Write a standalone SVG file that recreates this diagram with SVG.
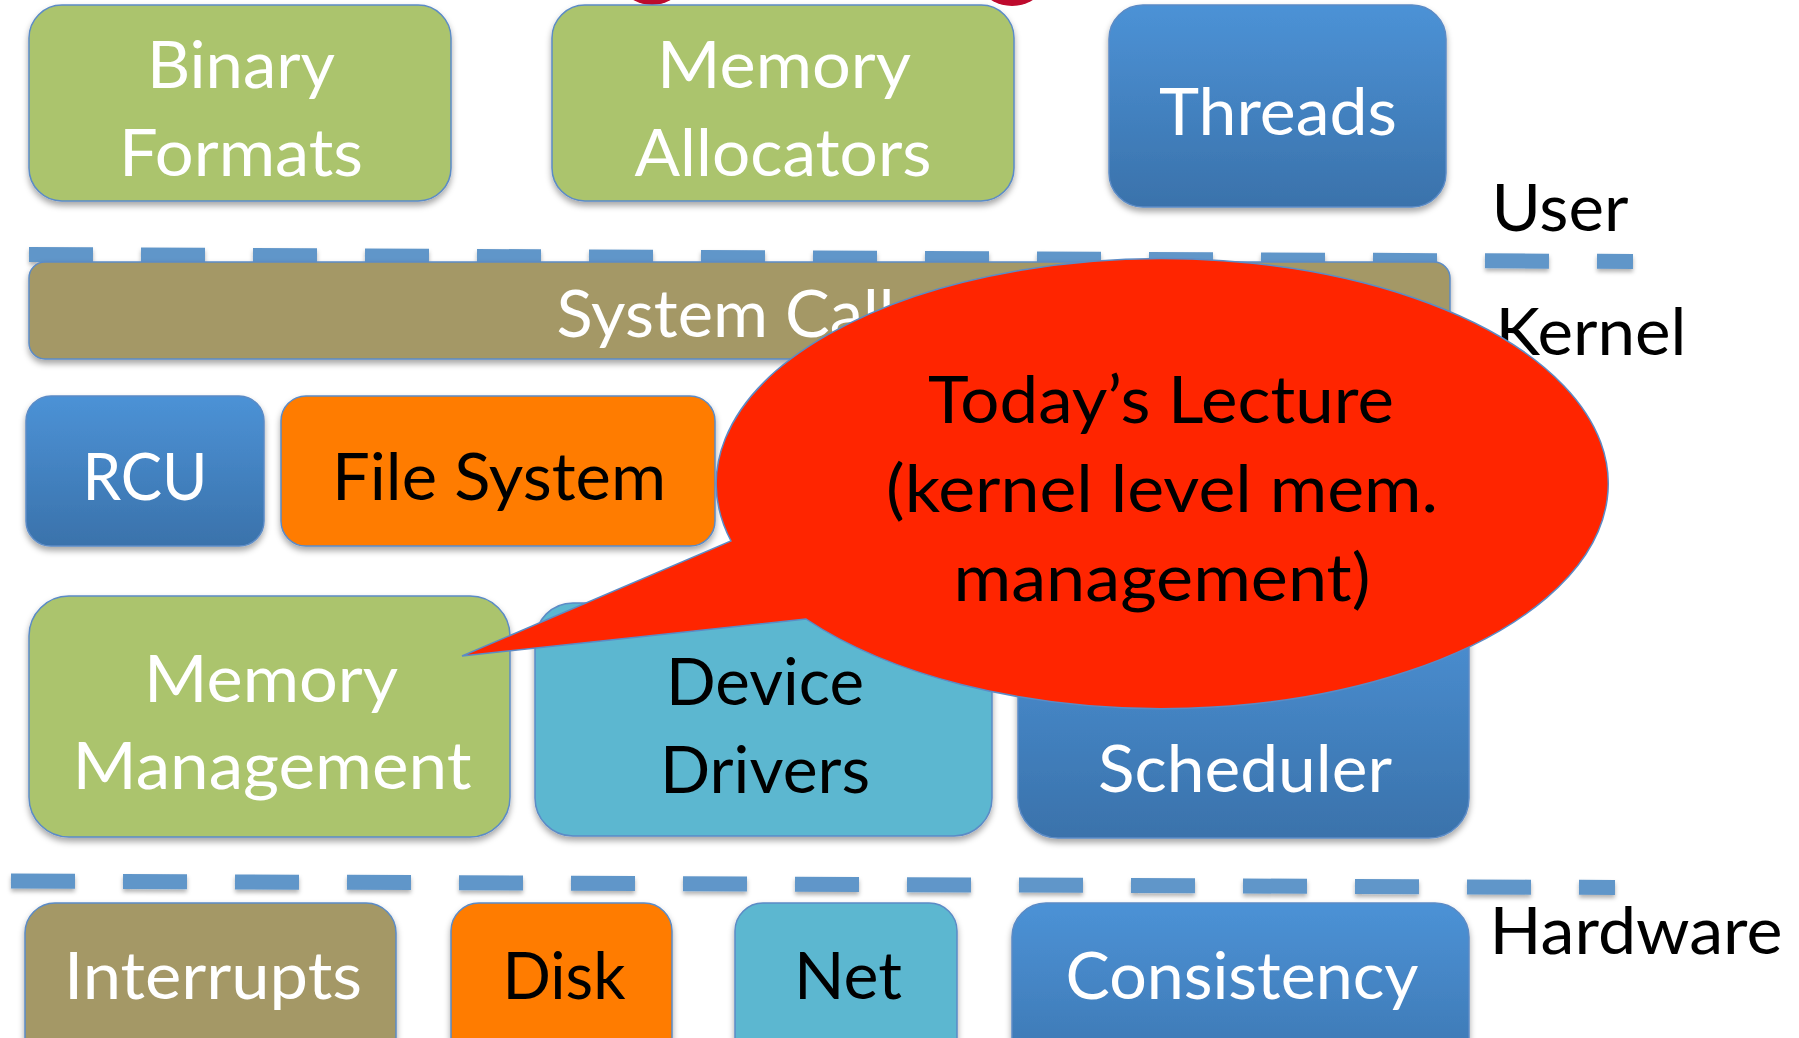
<svg xmlns="http://www.w3.org/2000/svg" width="1799" height="1038" viewBox="0 0 1799 1038">
<defs>
<linearGradient id="blueGrad" x1="0" y1="0" x2="0" y2="1">
<stop offset="0" stop-color="#4C92D6"/>
<stop offset="1" stop-color="#3A72AB"/>
</linearGradient>
<filter id="shadow" x="-10%" y="-10%" width="120%" height="130%">
<feDropShadow dx="0" dy="4" stdDeviation="3" flood-color="#000" flood-opacity="0.35"/>
</filter>
<filter id="dashShadow" filterUnits="userSpaceOnUse" x="0" y="0" width="1799" height="1038">
<feDropShadow dx="0" dy="3" stdDeviation="2" flood-color="#000" flood-opacity="0.3"/>
</filter>
</defs>
<style>
.box{stroke:#5B8BC6;stroke-width:1.5;filter:url(#shadow)}
.green{fill:#ABC46D}
.blue{fill:url(#blueGrad)}
.khaki{fill:#A49866}
.orange{fill:#FF7C00}
.cyan{fill:#5BB7D0}
.dash{stroke:#6196C9;stroke-width:15;stroke-dasharray:64 48;fill:none;filter:url(#dashShadow)}
text{font-family:Lato,"Open Sans","Liberation Sans",sans-serif;font-size:66px;text-anchor:middle}
.w{fill:#FFFFFF}
.k{fill:#000000}
</style>
<rect width="1799" height="1038" fill="#FFFFFF"/>
<g id="top-marks">
<ellipse cx="652" cy="-10" rx="25" ry="15" fill="#BE0A2D"/>
<ellipse cx="1012" cy="-9" rx="26" ry="15" fill="#BE0A2D"/>
</g>
<g id="binary-formats">
<rect class="box green" x="29" y="5" width="422" height="196" rx="33"/>
<text class="w" x="241" y="88" textLength="188" lengthAdjust="spacingAndGlyphs">Binary</text>
<text class="w" x="241" y="176" textLength="244" lengthAdjust="spacingAndGlyphs">Formats</text>
</g>
<g id="memory-allocators">
<rect class="box green" x="552" y="5" width="462" height="196" rx="33"/>
<text class="w" x="784" y="88" textLength="254" lengthAdjust="spacingAndGlyphs">Memory</text>
<text class="w" x="783" y="176" textLength="297" lengthAdjust="spacingAndGlyphs">Allocators</text>
</g>
<g id="threads">
<rect class="box blue" x="1109" y="5" width="337" height="202" rx="34"/>
<text class="w" x="1278" y="135" textLength="238" lengthAdjust="spacingAndGlyphs">Threads</text>
</g>
<g id="separators">
<line class="dash" x1="29" y1="254.5" x2="1633" y2="261.5"/>
<line class="dash" x1="11" y1="881" x2="1615" y2="887.5"/>
</g>
<g id="system-calls">
<rect class="box khaki" x="29" y="262" width="1421" height="97" rx="16"/>
<text class="w" x="740" y="337" textLength="367" lengthAdjust="spacingAndGlyphs">System Calls</text>
</g>
<g id="rcu">
<rect class="box blue" x="26" y="396" width="238" height="150" rx="25"/>
<text class="w" x="145" y="500" textLength="125" lengthAdjust="spacingAndGlyphs">RCU</text>
</g>
<g id="file-system">
<rect class="box orange" x="281" y="396" width="434" height="150" rx="25"/>
<text class="k" x="499" y="500" textLength="334" lengthAdjust="spacingAndGlyphs">File System</text>
</g>
<g id="memory-management">
<rect class="box green" x="29" y="596" width="481" height="241" rx="40"/>
<text class="w" x="271" y="702" textLength="254" lengthAdjust="spacingAndGlyphs">Memory</text>
<text class="w" x="272" y="789" textLength="399" lengthAdjust="spacingAndGlyphs">Management</text>
</g>
<g id="device-drivers">
<rect class="box cyan" x="535" y="603" width="457" height="233" rx="38"/>
<text class="k" x="765" y="705" textLength="198" lengthAdjust="spacingAndGlyphs">Device</text>
<text class="k" x="765" y="793" textLength="210" lengthAdjust="spacingAndGlyphs">Drivers</text>
</g>
<g id="scheduler">
<rect class="box blue" x="1018" y="598" width="451" height="240" rx="40"/>
<text class="w" x="1245" y="792" textLength="294" lengthAdjust="spacingAndGlyphs">Scheduler</text>
</g>
<g id="interrupts">
<rect class="box khaki" x="25" y="903" width="371" height="200" rx="30"/>
<text class="w" x="213" y="999" textLength="298" lengthAdjust="spacingAndGlyphs">Interrupts</text>
</g>
<g id="disk">
<rect class="box orange" x="451" y="903" width="221" height="200" rx="28"/>
<text class="k" x="564" y="999" textLength="123" lengthAdjust="spacingAndGlyphs">Disk</text>
</g>
<g id="net">
<rect class="box cyan" x="735" y="903" width="222" height="200" rx="28"/>
<text class="k" x="848" y="999" textLength="108" lengthAdjust="spacingAndGlyphs">Net</text>
</g>
<g id="consistency">
<rect class="box blue" x="1012" y="903" width="457" height="200" rx="34"/>
<text class="w" x="1242" y="999" textLength="353" lengthAdjust="spacingAndGlyphs">Consistency</text>
</g>
<g id="layer-labels">
<text class="k" x="1560" y="231" textLength="137" lengthAdjust="spacingAndGlyphs">User</text>
<text class="k" x="1591" y="355" textLength="191" lengthAdjust="spacingAndGlyphs">Kernel</text>
<text class="k" x="1636" y="954" textLength="293" lengthAdjust="spacingAndGlyphs">Hardware</text>
</g>
<g id="todays-lecture-callout">
<path d="M806,619 L462,656 L731,541 A446,225 0 1 1 806,619 Z" fill="#FF2500" stroke="#5B8BC6" stroke-width="1.5"/>
<text class="k" x="1161" y="423" textLength="466" lengthAdjust="spacingAndGlyphs">Today’s Lecture</text>
<text class="k" x="1162" y="512" textLength="552" lengthAdjust="spacingAndGlyphs">(kernel level mem.</text>
<text class="k" x="1162" y="601" textLength="417" lengthAdjust="spacingAndGlyphs">management)</text>
</g>
</svg>
